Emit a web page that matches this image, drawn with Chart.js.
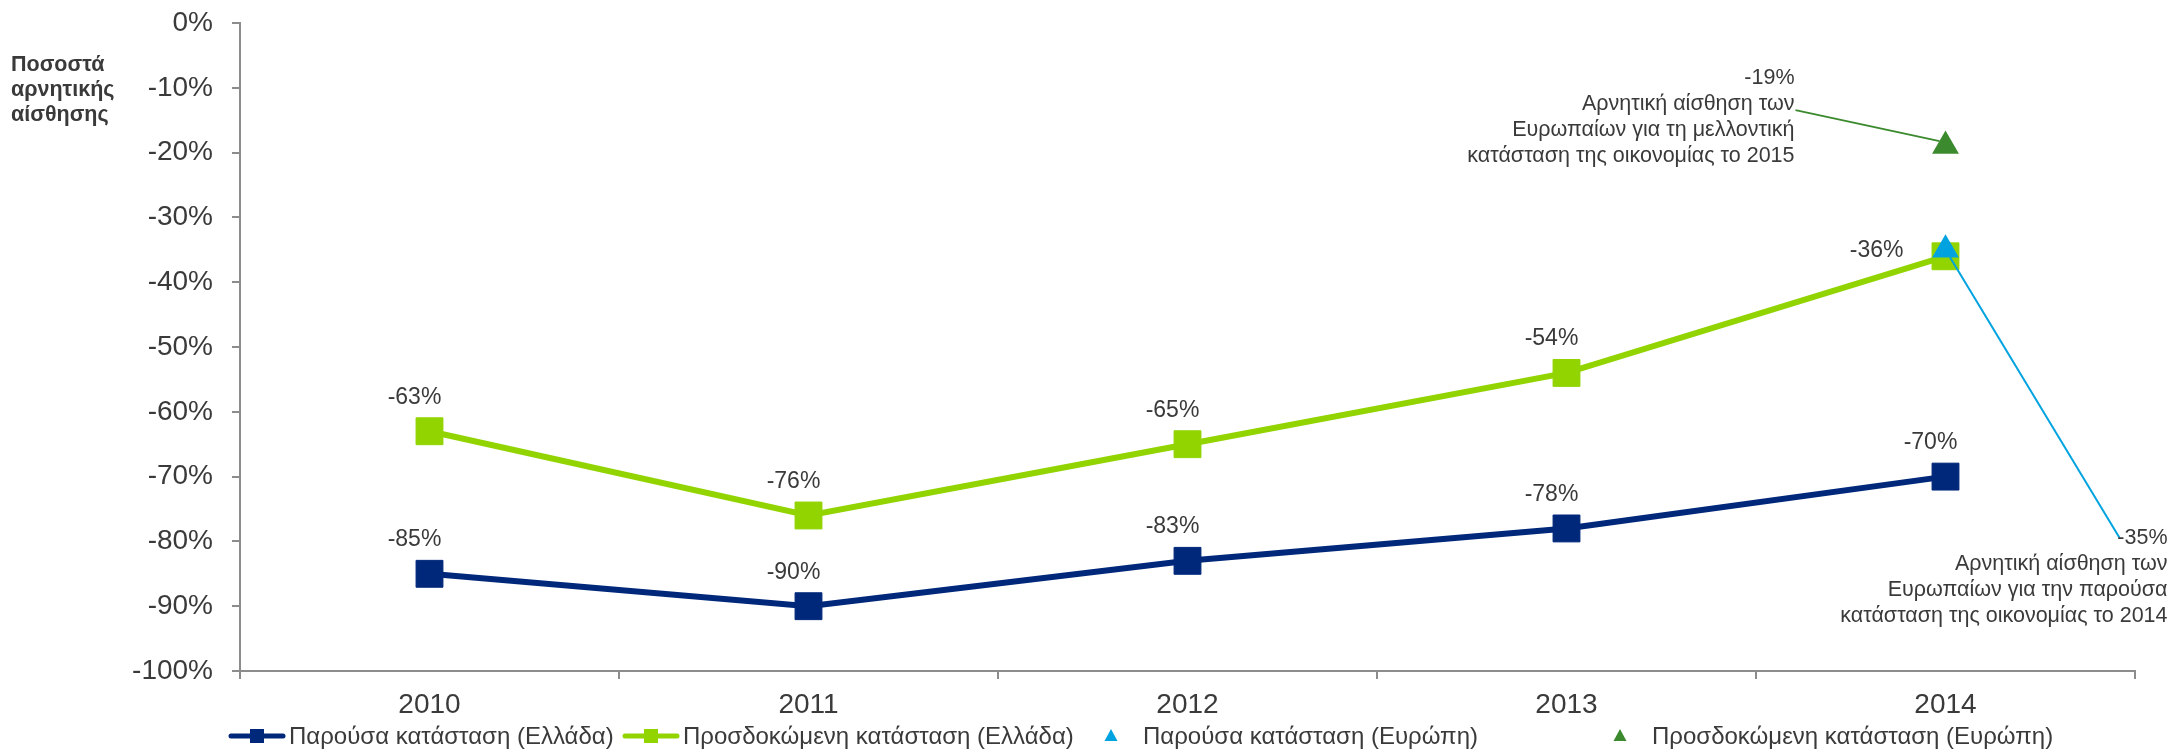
<!DOCTYPE html>
<html>
<head>
<meta charset="utf-8">
<script src="https://cdn.jsdelivr.net/npm/chart.js@4.4.1/dist/chart.umd.min.js"></script>
<style>
  html, body { margin: 0; padding: 0; background: #ffffff; }
</style>
</head>
<body>
<canvas id="sentimentChart" width="2181" height="752"></canvas>
<script>
const years = ["2010", "2011", "2012", "2013", "2014"];
const greeceCurrent = [-85, -90, -83, -78, -70];
const greeceExpected = [-63, -76, -65, -54, -36];
const europeCurrent = [null, null, null, null, -35];
const europeExpected = [null, null, null, null, -19];
const yMin = -100, yMax = 0, yStep = 10;

const seriesNames = [
    "Παρούσα κατάσταση (Ελλάδα)",
    "Προσδοκώμενη κατάσταση (Ελλάδα)",
    "Παρούσα κατάσταση (Ευρώπη)",
    "Προσδοκώμενη κατάσταση (Ευρώπη)"
];
const axisTitle = ["Ποσοστά", "αρνητικής", "αίσθησης"];
const noteEuropeCurrent = ["Αρνητική αίσθηση των", "Ευρωπαίων για την παρούσα", "κατάσταση της οικονομίας το 2014"];
const noteEuropeExpected = ["Αρνητική αίσθηση των", "Ευρωπαίων για τη μελλοντική", "κατάσταση της οικονομίας το 2015"];

const NAVY = "#00287a";
const LIME = "#92d400";
const SKY = "#00a3e0";
const FOREST = "#3c8a2e";
const TEXT = "#3a3a3a";
const AXIS = "#8c8c8c";
const FONT = "'Liberation Sans', Arial, sans-serif";

const pct = v => v + "%";

// value labels above the Greek series
const valueLabels = {
    id: "valueLabels",
    afterDatasetsDraw(chart) {
        const ctx = chart.ctx;
        ctx.save();
        ctx.font = "23px " + FONT;
        ctx.fillStyle = TEXT;
        ctx.textBaseline = "middle";
        [0, 1].forEach(i => {
            const data = chart.data.datasets[i].data;
            chart.getDatasetMeta(i).data.forEach((pt, j) => {
                if (i === 1 && j === data.length - 1) {
                    ctx.textAlign = "right";
                    ctx.fillText(pct(data[j]), pt.x - 42, pt.y - 6);
                } else {
                    ctx.textAlign = "center";
                    ctx.fillText(pct(data[j]), pt.x - 15, pt.y - 34);
                }
            });
        });
        ctx.restore();
    }
};

// callouts with leader lines for the European points
const europeNotes = {
    id: "europeNotes",
    afterDatasetsDraw(chart) {
        const ctx = chart.ctx;
        const last = years.length - 1;
        const cur = chart.getDatasetMeta(2).data[last];
        const exp = chart.getDatasetMeta(3).data[last];
        ctx.save();

        ctx.lineWidth = 2;
        ctx.strokeStyle = SKY;
        ctx.beginPath();
        ctx.moveTo(cur.x + 4.5, cur.y + 7.5);
        ctx.lineTo(cur.x + 174, cur.y + 288);
        ctx.stroke();

        ctx.strokeStyle = FOREST;
        ctx.beginPath();
        ctx.moveTo(exp.x - 6, exp.y - 5);
        ctx.lineTo(exp.x - 150, exp.y - 36);
        ctx.stroke();

        ctx.font = "21.5px " + FONT;
        ctx.fillStyle = TEXT;
        ctx.textAlign = "right";
        ctx.textBaseline = "middle";

        const curLines = [pct(europeCurrent[last])].concat(noteEuropeCurrent);
        curLines.forEach((t, k) => ctx.fillText(t, cur.x + 222, cur.y + 288 + k * 26));

        const expLines = [pct(europeExpected[last])].concat(noteEuropeExpected);
        expLines.forEach((t, k) => ctx.fillText(t, exp.x - 151, exp.y - 68 + k * 26));

        ctx.restore();
    }
};

// axis caption and legend row
const frameText = {
    id: "frameText",
    afterDraw(chart) {
        const ctx = chart.ctx;
        ctx.save();
        ctx.fillStyle = TEXT;
        ctx.textAlign = "left";
        ctx.textBaseline = "alphabetic";
        ctx.font = "bold 21.5px " + FONT;
        axisTitle.forEach((t, k) => ctx.fillText(t, 11, 71 + k * 25));

        const legendY = 736;
        const items = [
            { kind: "line", color: NAVY, x: 229 },
            { kind: "line", color: LIME, x: 623 },
            { kind: "tri", color: SKY, x: 1105 },
            { kind: "tri", color: FOREST, x: 1614 }
        ];
        ctx.font = "24px " + FONT;
        items.forEach((it, k) => {
            let textX;
            if (it.kind === "line") {
                ctx.strokeStyle = it.color;
                ctx.lineWidth = 5;
                ctx.lineCap = "round";
                ctx.beginPath();
                ctx.moveTo(it.x + 2, legendY);
                ctx.lineTo(it.x + 54, legendY);
                ctx.stroke();
                ctx.fillStyle = it.color;
                ctx.fillRect(it.x + 21, legendY - 7, 14, 14);
                textX = it.x + 60;
            } else {
                ctx.fillStyle = it.color;
                ctx.beginPath();
                ctx.moveTo(it.x + 6, legendY - 7);
                ctx.lineTo(it.x + 12.5, legendY + 5);
                ctx.lineTo(it.x - 0.5, legendY + 5);
                ctx.closePath();
                ctx.fill();
                textX = it.x + 38;
            }
            ctx.fillStyle = TEXT;
            ctx.fillText(seriesNames[k], textX, legendY + 8);
        });
        ctx.restore();
    }
};

const ctx = document.getElementById("sentimentChart").getContext("2d");

new Chart(ctx, {
    type: "line",
    data: {
        labels: years,
        datasets: [
            {
                label: seriesNames[0],
                data: greeceCurrent,
                borderColor: NAVY,
                backgroundColor: NAVY,
                borderWidth: 6,
                pointStyle: "rect",
                pointRadius: 19,
                pointBorderWidth: 1,
                tension: 0,
                order: 3
            },
            {
                label: seriesNames[1],
                data: greeceExpected,
                borderColor: LIME,
                backgroundColor: LIME,
                borderWidth: 6,
                pointStyle: "rect",
                pointRadius: 19,
                pointBorderWidth: 1,
                tension: 0,
                order: 2
            },
            {
                label: seriesNames[2],
                data: europeCurrent,
                borderColor: SKY,
                backgroundColor: SKY,
                showLine: false,
                pointStyle: "triangle",
                pointRadius: 15.5,
                pointBorderWidth: 0,
                order: 0
            },
            {
                label: seriesNames[3],
                data: europeExpected,
                borderColor: FOREST,
                backgroundColor: FOREST,
                showLine: false,
                pointStyle: "triangle",
                pointRadius: 15.5,
                pointBorderWidth: 0,
                order: 1
            }
        ]
    },
    options: {
        responsive: false,
        devicePixelRatio: 1,
        animation: false,
        layout: { autoPadding: false, padding: { top: 23, right: 46, bottom: 0, left: 0 } },
        plugins: {
            legend: { display: false },
            tooltip: { enabled: false }
        },
        scales: {
            x: {
                offset: true,
                grid: {
                    offset: true,
                    drawOnChartArea: false,
                    drawTicks: true,
                    tickLength: 8,
                    color: AXIS,
                    lineWidth: 2
                },
                border: { color: AXIS, width: 2 },
                ticks: {
                    color: TEXT,
                    padding: 9,
                    font: { family: FONT, size: 28 }
                },
                afterFit: s => { s.height = 81; }
            },
            y: {
                min: yMin,
                max: yMax,
                grid: {
                    drawOnChartArea: false,
                    drawTicks: true,
                    tickLength: 8,
                    color: AXIS,
                    lineWidth: 2
                },
                border: { color: AXIS, width: 2 },
                ticks: {
                    stepSize: yStep,
                    color: TEXT,
                    padding: 19,
                    font: { family: FONT, size: 28 },
                    callback: v => pct(v)
                },
                afterFit: s => {
                    s.width = 240;
                    s.paddingTop = 0;
                    s.paddingBottom = 0;
                }
            }
        }
    },
    plugins: [valueLabels, europeNotes, frameText]
});
</script>
</body>
</html>
